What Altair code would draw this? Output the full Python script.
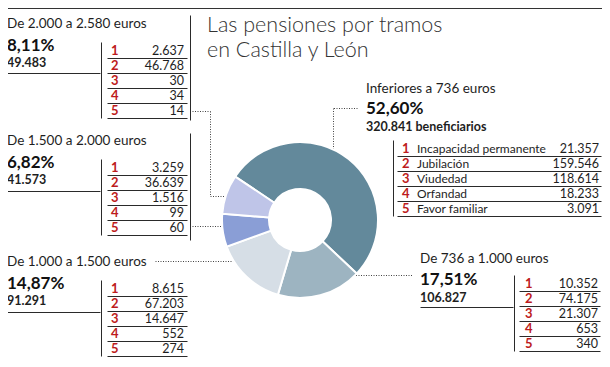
import math
import altair as alt
import pandas as pd

# ---------------- data ----------------
categories = ["Inferiores a 736 euros", "De 736 a 1.000 euros", "De 1.000 a 1.500 euros",
              "De 1.500 a 2.000 euros", "De 2.000 a 2.580 euros"]
pct_values = [52.60, 17.51, 14.87, 6.82, 8.11]
pct_labels = ["52,60%", "17,51%", "14,87%", "6,82%", "8,11%"]
beneficiaries = [320841, 106827, 91291, 41573, 49483]
pension_types = ["Incapacidad permanente", "Jubilación", "Viudedad", "Orfandad", "Favor familiar"]
values_inferiores = [21357, 159546, 118614, 18233, 3091]
values_736_1000 = [10352, 74175, 21307, 653, 340]
values_1000_1500 = [8615, 67203, 14647, 552, 274]
values_1500_2000 = [3259, 36639, 1516, 99, 60]
values_2000_2580 = [2637, 46768, 30, 34, 14]
title_lines = ["Las pensiones por tramos", "en Castilla y León"]

by_cat = [values_inferiores, values_736_1000, values_1000_1500, values_1500_2000, values_2000_2580]

# ---------------- styles / layout ----------------
colors = ["#63899b", "#9db4c1", "#d6dee6", "#8a9ed6", "#bfc5e8"]
FONT = "Lato"
DARK = "#1e1e1e"
RED = "#bd1a20"
W, H = 594, 351
OFF = 8  # page margin


def fmt(n):
    return f"{n:,}".replace(",", ".")


def P(x, y):
    return x - OFF, y - OFF


# per-block anchors in page pixel coordinates
layout = [
    dict(tx=366, ty=93, pdy=21, cdy=38, hl=None, vx=393, r0=148, numx=402, labx=417, valx=599, lx0=397, lx1=601),
    dict(tx=420, ty=263, pdy=22, cdy=39, hl=(420, 513, 307), vx=514, r0=283, numx=525, labx=None, valx=598, lx0=519, lx1=600),
    dict(tx=7, ty=266, pdy=23, cdy=39, hl=(7, 100, 312), vx=101, r0=288, numx=111, labx=None, valx=184, lx0=107, lx1=187),
    dict(tx=7, ty=145, pdy=23, cdy=39, hl=(7, 100, 191), vx=101, r0=167, numx=111, labx=None, valx=184, lx0=107, lx1=187),
    dict(tx=7, ty=28, pdy=23, cdy=39, hl=(7, 100, 73), vx=101, r0=50, numx=111, labx=None, valx=184, lx0=107, lx1=187),
]
ROW = 15
BASE = 4.5  # row text baseline below row centre

texts = {k: [] for k in ["title", "cat", "pct", "cnt", "num", "lab", "val"]}
solid = []
dotted = []


def add_text(kind, x, y, t):
    px, py = P(x, y)
    texts[kind].append(dict(x=px, y=py, text=t))


def add_seg(lst, x0, y0, x1, y1):
    a, b = P(x0 + 0.5, y0 + 0.5)
    c, d = P(x1 + 0.5, y1 + 0.5)
    lst.append(dict(x=a, y=b, x2=c, y2=d))


for i, t in enumerate(title_lines):
    add_text("title", 207, 32 + 25 * i, t)

for i, cat in enumerate(categories):
    L = layout[i]
    add_text("cat", L["tx"], L["ty"], cat)
    add_text("pct", L["tx"], L["ty"] + L["pdy"], pct_labels[i])
    cnt = fmt(beneficiaries[i]) + (" beneficiarios" if i == 0 else "")
    add_text("cnt", L["tx"], L["ty"] + L["cdy"], cnt)
    if L["hl"]:
        x0, x1, y = L["hl"]
        add_seg(solid, x0, y, x1, y)
    for j, v in enumerate(by_cat[i]):
        yc = L["r0"] + ROW * j
        add_text("num", L["numx"], yc + BASE, str(j + 1))
        add_text("val", L["valx"], yc + BASE, fmt(v))
        if L["labx"]:
            add_text("lab", L["labx"], yc + BASE, pension_types[j])
        add_seg(solid, L["lx0"], yc + 8, L["lx1"], yc + 8)
    add_seg(solid, L["vx"], L["r0"] - 8, L["vx"], L["r0"] + ROW * 4 + 8)

# right box lines of upper left blocks
add_seg(solid, 190, 15, 190, 120)
add_seg(solid, 190, 133, 190, 240)

# leaders
leaders = [
    [(357, 108), (333, 108), (333, 158)],
    [(328, 275), (413, 275)],
    [(155, 261), (245, 261)],
    [(192, 226), (224, 226)],
    [(192, 111), (210, 111), (210, 196), (232, 196)],
]
for pl in leaders:
    for (a, b), (c, d) in zip(pl[:-1], pl[1:]):
        add_seg(dotted, a, b, c, d)

xs = alt.Scale(domain=[0, W], nice=False, zero=False)
ys = alt.Scale(domain=[0, H], nice=False, zero=False, reverse=True)


def text_layer(kind, size, weight="normal", color=DARK, align="left", baseline="alphabetic"):
    return alt.Chart(pd.DataFrame(texts[kind])).mark_text(
        font=FONT, fontSize=size, fontWeight=weight, color=color, align=align, baseline=baseline
    ).encode(x=alt.X("x:Q", scale=xs, axis=None), y=alt.Y("y:Q", scale=ys, axis=None), text="text:N")


def rule_layer(rows, dash=None, color="#2a2a2a", width=1):
    kw = dict(color=color, strokeWidth=width)
    if dash:
        kw["strokeDash"] = dash
    return alt.Chart(pd.DataFrame(rows)).mark_rule(**kw).encode(
        x=alt.X("x:Q", scale=xs, axis=None), y=alt.Y("y:Q", scale=ys, axis=None), x2="x2:Q", y2="y2:Q"
    )


top_rule = alt.Chart(pd.DataFrame({"x": [0], "x2": [W], "y": [0.5], "y2": [0.5]})).mark_rule(
    color="#333333", strokeWidth=1.2
).encode(x=alt.X("x:Q", scale=xs, axis=None), y=alt.Y("y:Q", scale=ys, axis=None), x2="x2:Q", y2="y2:Q")

donut_df = pd.DataFrame({"cat": categories, "pct": pct_values, "ord": list(range(len(categories)))})
a0 = 2 * math.pi - 0.98
cx, cy = P(300, 220)
donut = alt.Chart(donut_df).mark_arc(innerRadius=31, outerRadius=78, stroke="white", strokeWidth=2).encode(
    theta=alt.Theta("pct:Q", stack=True, scale=alt.Scale(range=[a0, a0 + 2 * math.pi])),
    color=alt.Color("cat:N", scale=alt.Scale(domain=categories, range=colors), legend=None),
    order=alt.Order("ord:Q"),
    x=alt.value(cx),
    y=alt.value(cy),
)

chart = alt.layer(
    top_rule,
    rule_layer(dotted, dash=[1, 1.5], color="#444444"),
    donut,
    rule_layer(solid),
    text_layer("title", 21.5, weight=300, color="#333333"),
    text_layer("cat", 13.5),
    text_layer("pct", 17, weight="bold", color="#111111"),
    text_layer("cnt", 12.5, weight="bold"),
    text_layer("num", 13, weight="bold", color=RED),
    text_layer("lab", 12),
    text_layer("val", 12.5, align="right"),
).resolve_scale(theta="independent").properties(
    width=W, height=H, autosize=alt.AutoSizeParams(type="none"), padding=0, background="white"
).configure_view(stroke=None)

chart.save("out.html", embed_options={"renderer": "svg", "actions": False})
